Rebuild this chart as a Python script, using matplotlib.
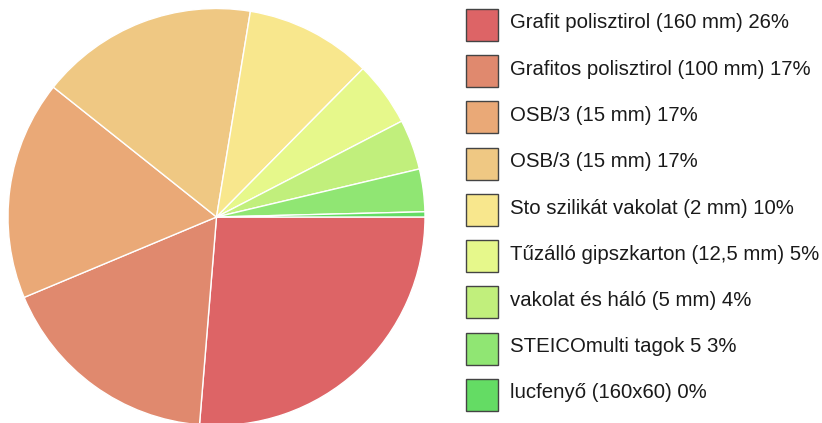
import matplotlib
matplotlib.use('Agg')
import matplotlib.pyplot as plt
from matplotlib.patches import Rectangle

# adatok
labels = ['Grafit polisztirol (160 mm)', 'Grafitos polisztirol (100 mm)', 'OSB/3 (15 mm)',
          'OSB/3 (15 mm)', 'Sto szilikát vakolat (2 mm)', 'Tűzálló gipszkarton (12,5 mm)',
          'vakolat és háló (5 mm)', 'STEICOmulti tagok 5', 'lucfenyő (160x60)']
values = [26.3, 17.4, 17.0, 16.9, 9.8, 5.0, 3.9, 3.3, 0.4]
pct_labels = ['26%', '17%', '17%', '17%', '10%', '5%', '4%', '3%', '0%']
colors = ['#dd6466', '#e0896e', '#eaa977', '#efc883', '#f8e78d', '#e6f88b',
          '#c1ef7c', '#90e673', '#64dc64']

plt.rcParams['font.family'] = ['Liberation Sans', 'DejaVu Sans']

W, H = 822, 423
fig = plt.figure(figsize=(W / 100, H / 100), dpi=100)

# kordiagram
cx, cy, r = 216.5, 217, 208.5
ax = fig.add_axes([(cx - r) / W, (H - cy - r) / H, 2 * r / W, 2 * r / H])
ax.pie(values, colors=colors, startangle=0, counterclock=False, radius=1,
       wedgeprops=dict(edgecolor='white', linewidth=1))
ax.set_xlim(-1, 1)
ax.set_ylim(-1, 1)
ax.set_aspect('equal')
ax.axis('off')

# jelmagyarazat
lax = fig.add_axes([0, 0, 1, 1])
lax.set_xlim(0, W)
lax.set_ylim(H, 0)
lax.axis('off')
for i, (lab, pct, col) in enumerate(zip(labels, pct_labels, colors)):
    yc = 25 + i * 46.25
    lax.add_patch(Rectangle((466, yc - 16), 32, 32, facecolor=col,
                            edgecolor='#444444', linewidth=1))
    lax.text(510, yc - 2, lab + ' ' + pct, fontsize=14.7, va='center', ha='left',
             color='#1a1a1a')

fig.savefig('out.png', dpi=100)
